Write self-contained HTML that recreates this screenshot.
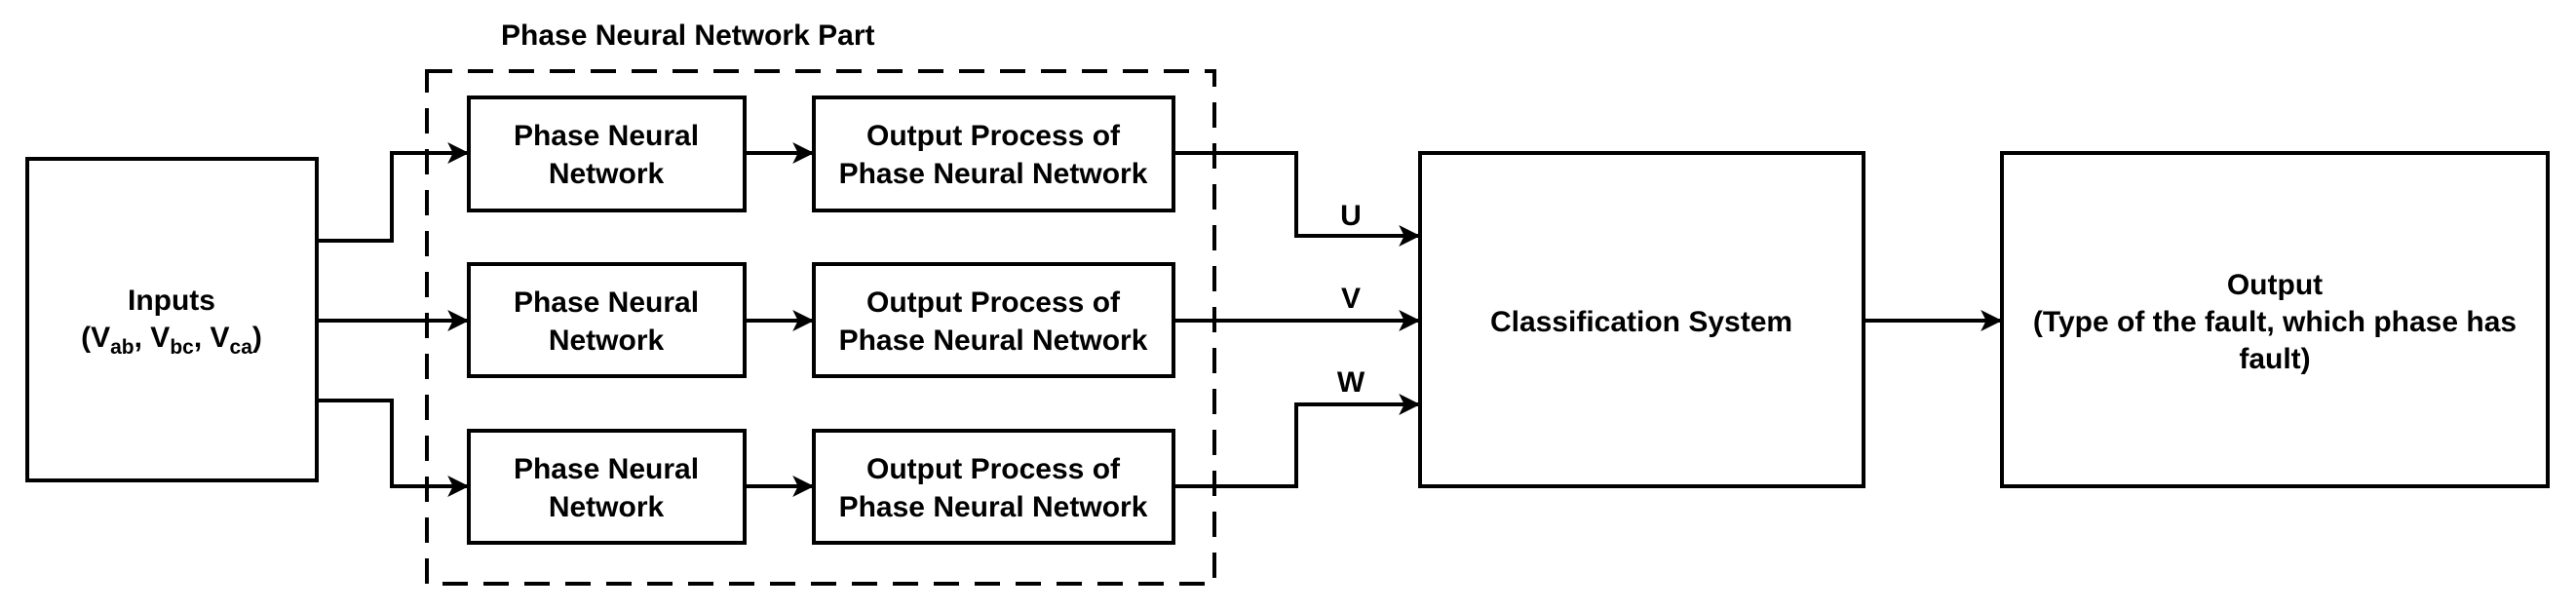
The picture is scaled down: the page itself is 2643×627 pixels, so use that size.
<!DOCTYPE html>
<html><head><style>
html,body{margin:0;padding:0;background:#fff;}
svg text{font-family:"Liberation Sans",Arial,sans-serif;font-weight:bold;font-size:30px;fill:#000;}
</style></head><body>
<svg width="2643" height="622" viewBox="0 0 2643 622" xmlns="http://www.w3.org/2000/svg">
<defs>
<marker id="b" viewBox="0 0 20 20" refX="18" refY="10" markerWidth="22" markerHeight="22" orient="auto" markerUnits="userSpaceOnUse"><path d="M0,0 L20,10 L0,20 L5,10 z" fill="#000"/></marker></defs>
<g fill="none" stroke="#000" stroke-width="4">
<rect x="438" y="73" width="808" height="526" stroke-width="4" stroke-dasharray="26,16"/>
<rect x="28" y="163" width="297" height="330"/>
<rect x="481" y="100" width="283" height="116"/>
<rect x="481" y="271" width="283" height="115"/>
<rect x="481" y="442" width="283" height="115"/>
<rect x="835" y="100" width="369" height="116"/>
<rect x="835" y="271" width="369" height="115"/>
<rect x="835" y="442" width="369" height="115"/>
<rect x="1457" y="157" width="455" height="342"/>
<rect x="2054" y="157" width="560" height="342"/>
<path d="M325 247 H402 V157 H479" marker-end="url(#b)"/>
<path d="M325 329 H479" marker-end="url(#b)"/>
<path d="M325 411 H402 V499 H479" marker-end="url(#b)"/>
<path d="M764 157 H833" marker-end="url(#b)"/>
<path d="M764 329 H833" marker-end="url(#b)"/>
<path d="M764 499 H833" marker-end="url(#b)"/>
<path d="M1204 157 H1330 V242 H1455" marker-end="url(#b)"/>
<path d="M1204 329 H1455" marker-end="url(#b)"/>
<path d="M1204 499 H1330 V415 H1455" marker-end="url(#b)"/>
<path d="M1912 329 H2052" marker-end="url(#b)"/>
</g>
<g text-anchor="middle">
<text x="514" y="46" text-anchor="start">Phase Neural Network Part</text>
<text x="176" y="318">Inputs</text>
<text x="176" y="356">(V<tspan font-size="21" dy="7">ab</tspan><tspan dy="-7">, V</tspan><tspan font-size="21" dy="7">bc</tspan><tspan dy="-7">, V</tspan><tspan font-size="21" dy="7">ca</tspan><tspan dy="-7">)</tspan></text>
<text x="622" y="149">Phase Neural</text><text x="622" y="188">Network</text>
<text x="622" y="320">Phase Neural</text><text x="622" y="359">Network</text>
<text x="622" y="491">Phase Neural</text><text x="622" y="530">Network</text>
<text x="1019" y="149">Output Process of</text><text x="1019" y="188">Phase Neural Network</text>
<text x="1019" y="320">Output Process of</text><text x="1019" y="359">Phase Neural Network</text>
<text x="1019" y="491">Output Process of</text><text x="1019" y="530">Phase Neural Network</text>
<text x="1386" y="231">U</text>
<text x="1386" y="316">V</text>
<text x="1386" y="402">W</text>
<text x="1684" y="340">Classification System</text>
<text x="2334" y="302">Output</text>
<text x="2334" y="340">(Type of the fault, which phase has</text>
<text x="2334" y="378">fault)</text>
</g>
</svg>
</body></html>
